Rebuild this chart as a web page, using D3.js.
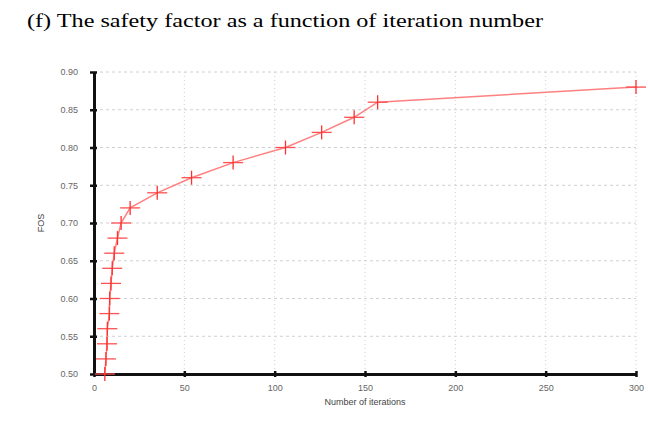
<!DOCTYPE html>
<html>
<head>
<meta charset="utf-8">
<script src="https://cdn.jsdelivr.net/npm/d3@7"></script>
<style>
  body { margin: 0; background: #fff; }
  svg { display: block; }
</style>
</head>
<body>
<svg id="chart" width="648" height="421"></svg>
<script>
// iterations and factor of safety
var iterations = [6, 6.6, 7.2, 7.4, 8.5, 8.7, 9.4, 10.1, 11.2, 13, 15, 20, 35, 54, 77, 106, 126, 144, 157, 300];
var fos = [0.50, 0.52, 0.54, 0.56, 0.58, 0.60, 0.62, 0.64, 0.66, 0.68, 0.70, 0.72, 0.74, 0.76, 0.78, 0.80, 0.82, 0.84, 0.86, 0.88];
var xTicks = [0, 50, 100, 150, 200, 250, 300];
var yTicks = [0.50, 0.55, 0.60, 0.65, 0.70, 0.75, 0.80, 0.85, 0.90];

var margin = {left: 94, right: 12, top: 72, bottom: 47};
var svg = d3.select("#chart");
var W = 648, H = 421;
var x = d3.scaleLinear().domain([0, 300]).range([margin.left, W - margin.right]);
var y = d3.scaleLinear().domain([0.5, 0.9]).range([H - margin.bottom, margin.top]);

// title
svg.append("text").attr("x", 27).attr("y", 27)
  .attr("font-family", "'Liberation Serif', 'Times New Roman', serif").attr("font-size", 18)
  .attr("textLength", 516).attr("lengthAdjust", "spacingAndGlyphs")
  .text("(f)  The safety factor as a function of iteration number");

// grid
svg.append("g").selectAll("line").data(yTicks.slice(1)).enter().append("line")
  .attr("x1", x(0)).attr("x2", x(300)).attr("y1", d => y(d)).attr("y2", d => y(d))
  .attr("stroke", "#d0d0d0").attr("stroke-width", 1).attr("stroke-dasharray", "3,3");
svg.append("g").selectAll("line").data(xTicks.slice(1)).enter().append("line")
  .attr("x1", d => x(d)).attr("x2", d => x(d)).attr("y1", y(0.9)).attr("y2", y(0.5))
  .attr("stroke", "#d0d0d0").attr("stroke-width", 1).attr("stroke-dasharray", "1,3");

// axes
var xAxis = svg.append("g").attr("transform", "translate(0," + y(0.5) + ")")
  .call(d3.axisBottom(x).tickValues(xTicks).tickSize(4).tickSizeOuter(0));
var yAxis = svg.append("g").attr("transform", "translate(" + x(0) + ",0)")
  .call(d3.axisLeft(y).tickValues(yTicks).tickFormat(d3.format(".2f")).tickSize(4).tickSizeOuter(0));
[xAxis, yAxis].forEach(function(g) {
  g.select(".domain").attr("stroke", "#111").attr("stroke-width", 3);
  g.selectAll(".tick line").attr("stroke", "#111").attr("stroke-width", 2.5);
  g.selectAll("text").attr("fill", "#666").attr("font-family", "'Liberation Sans', Arial, sans-serif").attr("font-size", 9);
});
xAxis.selectAll(".tick line").attr("y1", -3).attr("y2", 3);
xAxis.selectAll("text").attr("y", 11);
yAxis.selectAll(".tick line").attr("x1", -4).attr("x2", 3);
yAxis.selectAll("text").attr("x", -16);

// axis labels
svg.append("text").attr("x", 365).attr("y", 405).attr("text-anchor", "middle")
  .attr("font-family", "'Liberation Sans', Arial, sans-serif").attr("font-size", 9).attr("fill", "#444")
  .text("Number of iterations");
svg.append("text").attr("transform", "translate(44," + y(0.7) + ") rotate(-90)").attr("text-anchor", "middle")
  .attr("font-family", "'Liberation Sans', Arial, sans-serif").attr("font-size", 9).attr("fill", "#444")
  .text("FOS");

// line
var pts = iterations.map(function(d, i) { return {it: d, f: fos[i]}; });
svg.append("path").datum(pts)
  .attr("d", d3.line().x(d => x(d.it)).y(d => y(d.f)))
  .attr("fill", "none").attr("stroke", "#ff6a6a").attr("stroke-width", 1.5).attr("stroke-opacity", 0.85);

// plus markers
var mk = svg.append("g").selectAll("g").data(pts).enter().append("g")
  .attr("transform", d => "translate(" + x(d.it) + "," + y(d.f) + ")");
mk.append("line").attr("x1", -10).attr("x2", 10).attr("y1", 0).attr("y2", 0)
  .attr("stroke", "#ff5050").attr("stroke-width", 1.3);
mk.append("line").attr("x1", 0).attr("x2", 0).attr("y1", -7).attr("y2", 7)
  .attr("stroke", "#ff3030").attr("stroke-width", 1.3);
</script>
</body>
</html>
